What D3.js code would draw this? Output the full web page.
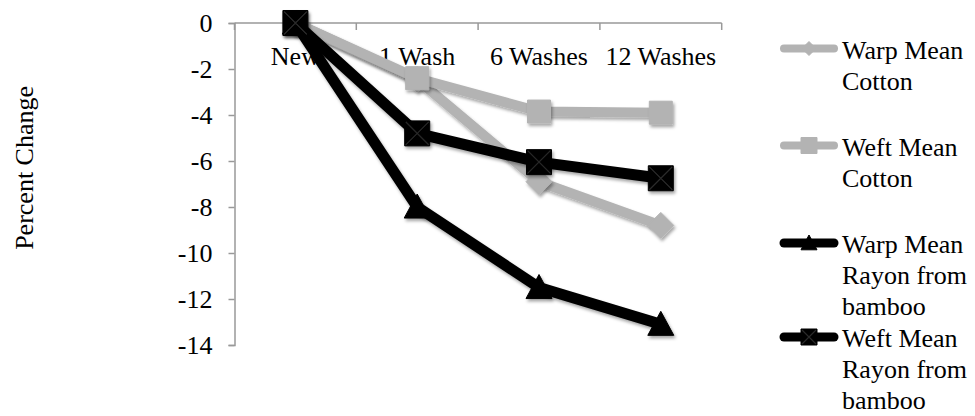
<!DOCTYPE html>
<html><head><meta charset="utf-8">
<script src="https://cdn.jsdelivr.net/npm/d3@7"></script>
<style>html,body{margin:0;padding:0;background:#fff;}svg{display:block;}text{font-family:'Liberation Serif','Times New Roman',serif;}</style>
</head><body>
<script>
const categories = ["New", "1 Wash", "6 Washes", "12 Washes"];
const seriesNames = [["Warp Mean", "Cotton"], ["Weft Mean", "Cotton"], ["Warp Mean", "Rayon from", "bamboo"], ["Weft Mean", "Rayon from", "bamboo"]];
const warpCotton = [0, -2.45, -6.9, -8.8];
const weftCotton = [0, -2.4, -3.85, -3.9];
const warpRayon = [0, -8.0, -11.5, -13.1];
const weftRayon = [0, -4.8, -6.05, -6.75];
const yTicks = [0, -2, -4, -6, -8, -10, -12, -14];
const yTitle = "Percent Change";

const series = [
  {name: seriesNames[0], values: warpCotton, color: "#b3b3b3", marker: "diamond", width: 10},
  {name: seriesNames[1], values: weftCotton, color: "#b3b3b3", marker: "square", width: 10},
  {name: seriesNames[2], values: warpRayon, color: "#000000", marker: "triangle", width: 11},
  {name: seriesNames[3], values: weftRayon, color: "#000000", marker: "xsquare", width: 11}
];

const W = 975, H = 416;
const margin = {left: 234.5, right: 975 - 721.7, top: 23, bottom: 416 - 345};
const font = "'Liberation Serif', 'Times New Roman', serif";
const FS = 26;

const svg = d3.select("body").append("svg").attr("width", W).attr("height", H)
  .style("font-family", font);

const defs = svg.append("defs");
const f = defs.append("filter").attr("id", "shadow").attr("x", "-50%").attr("y", "-50%").attr("width", "200%").attr("height", "200%");
f.append("feDropShadow").attr("dx", 1.5).attr("dy", 2.5).attr("stdDeviation", 1.5).attr("flood-color", "#000").attr("flood-opacity", 0.35);

const x = d3.scaleBand().domain(categories).range([margin.left, W - margin.right]).paddingInner(0).paddingOuter(0);
const y = d3.scaleLinear().domain([-14, 0]).range([H - margin.bottom, margin.top]);

// Y axis
const yAxis = d3.axisLeft(y).tickValues(yTicks).tickSize(6).tickPadding(16).tickFormat(d => String(d));
const gy = svg.append("g").attr("transform", `translate(${margin.left},0)`).call(yAxis);
gy.attr("font-family", font).attr("font-size", FS);
gy.select(".domain").attr("stroke", "#999").attr("stroke-width", 1.5);
gy.selectAll(".tick line").attr("stroke", "#999").attr("stroke-width", 1.5);
gy.selectAll(".tick text").attr("font-size", FS).attr("font-family", font).attr("fill", "#000").attr("dy", "0.34em");

// X axis at y=0 with ticks on band edges pointing down
const gx = svg.append("g").attr("transform", `translate(0,${y(0)})`);
gx.append("line").attr("x1", x.range()[0]).attr("x2", x.range()[1]).attr("stroke", "#999").attr("stroke-width", 1.5);
const edges = categories.map(c => x(c)).concat([x.range()[1]]);
gx.selectAll("line.tk").data(edges).enter().append("line").attr("class", "tk")
  .attr("x1", d => d).attr("x2", d => d).attr("y1", 0).attr("y2", 7)
  .attr("stroke", "#999").attr("stroke-width", 1.5);

const cx = c => x(c) + x.bandwidth() / 2;
gx.selectAll("text.cat").data(categories).enter().append("text").attr("class", "cat")
  .attr("x", d => cx(d)).attr("y", 42).attr("text-anchor", "middle")
  .attr("font-size", FS).attr("font-family", font).attr("fill", "#000").text(d => d);

// Y title
svg.append("text").attr("transform", `translate(33,${y(-6.3)}) rotate(-90)`)
  .attr("text-anchor", "middle").attr("font-size", FS).attr("font-family", font).text(yTitle);

function markerPath(type, s) {
  const h = s / 2;
  if (type === "diamond") return `M0,${-h}L${h},0L0,${h}L${-h},0Z`;
  if (type === "square" || type === "xsquare") return `M${-h},${-h}H${h}V${h}H${-h}Z`;
  if (type === "triangle") return `M0,${-h}L${h},${h * 0.85}L${-h},${h * 0.85}Z`;
}

function drawMarker(g, type, color, s) {
  g.append("path").attr("d", markerPath(type, s)).attr("fill", color)
    .attr("stroke", color).attr("stroke-width", 1);
  if (type === "xsquare") {
    const h = s / 2 - 1;
    g.append("path").attr("d", `M${-h},${-h}L${h},${h}M${h},${-h}L${-h},${h}`)
      .attr("stroke", "#2a2a2a").attr("stroke-width", 1.2);
  }
}

const plot = svg.append("g");
const line = d3.line().x((d, i) => cx(categories[i])).y(d => y(d));

series.forEach(s => {
  const g = plot.append("g");
  g.append("path").datum(s.values).attr("d", line).attr("fill", "none")
    .attr("stroke", s.color).attr("stroke-width", s.width).attr("stroke-linejoin", "round")
    .attr("filter", "url(#shadow)");
  s.values.forEach((v, i) => {
    const mg = g.append("g").attr("transform", `translate(${cx(categories[i])},${y(v)})`).attr("filter", "url(#shadow)");
    const size = s.marker === "diamond" ? 26 : s.marker === "triangle" ? 26 : s.marker === "xsquare" ? 25 : 23;
    drawMarker(mg, s.marker, s.color, size);
  });
});

// Legend
const legendBaselines = [58.5, 155.5, 253, 347];
const lineH = 31;
const leg = svg.append("g");
series.forEach((s, k) => {
  const b = legendBaselines[k];
  const ly = b - 10;
  const g = leg.append("g");
  g.append("line").attr("x1", 784).attr("x2", 834).attr("y1", ly).attr("y2", ly)
    .attr("stroke", s.color).attr("stroke-width", s.color === "#000000" ? 9 : 8)
    .attr("stroke-linecap", "round");
  const mg = g.append("g").attr("transform", `translate(809,${ly})`);
  const size = s.marker === "diamond" ? 14 : 16;
  drawMarker(mg, s.marker, s.color, size);
  const t = g.append("text").attr("x", 842).attr("y", b).attr("font-size", FS).attr("font-family", font).attr("fill", "#000");
  s.name.forEach((ln, j) => t.append("tspan").attr("x", 842).attr("y", b + j * lineH).text(ln));
});
</script>
</body></html>
